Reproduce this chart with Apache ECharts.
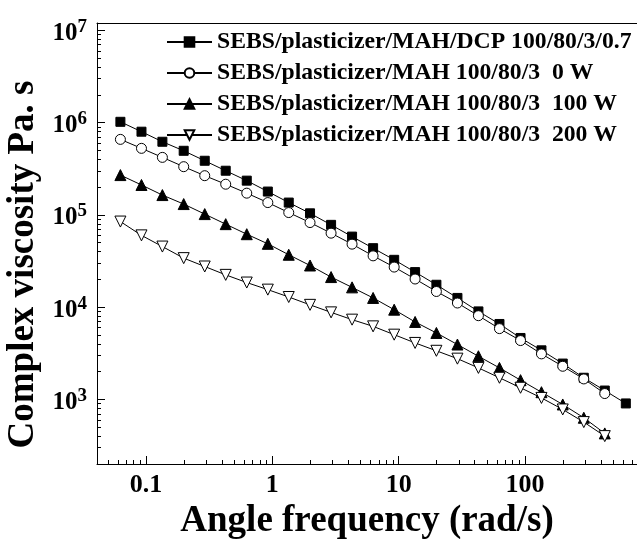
<!DOCTYPE html>
<html lang="en">
<head>
    <meta charset="UTF-8">
    <title>Complex viscosity vs angle frequency</title>
    <script src="https://cdn.jsdelivr.net/npm/echarts@6.0.0/dist/echarts.min.js"></script>
    <style>
        html, body { margin: 0; padding: 0; background: #fff; }
    </style>
</head>
<body>
<div id="main" style="width: 637px;height: 539px;"></div>

<script type="text/javascript">
    // angle frequency (rad/s), 6 points per decade
    var freq = [0.0628, 0.0922, 0.135, 0.199, 0.292, 0.428, 0.628, 0.922, 1.35, 1.99, 2.92, 4.28,
        6.28, 9.22, 13.5, 19.9, 29.2, 42.8, 62.8, 92.2, 135, 199, 292, 428, 628];

    var names = [
        'SEBS/plasticizer/MAH/DCP 100/80/3/0.7',
        'SEBS/plasticizer/MAH 100/80/3  0 W',
        'SEBS/plasticizer/MAH 100/80/3  100 W',
        'SEBS/plasticizer/MAH 100/80/3  200 W'
    ];

    var dcp = [1.02e6, 7.97e5, 6.2e5, 4.95e5, 3.86e5, 3.01e5, 2.35e5, 1.79e5, 1.36e5, 1.04e5, 7.8e4, 5.82e4,
        4.36e4, 3.26e4, 2.4e4, 1.75e4, 1.26e4, 9.0e3, 6.58e3, 4.64e3, 3.41e3, 2.45e3, 1.72e3, 1.25e3, 906];
    var w0 = [6.58e5, 5.26e5, 4.2e5, 3.33e5, 2.66e5, 2.15e5, 1.72e5, 1.36e5, 1.06e5, 8.26e4, 6.34e4, 4.82e4,
        3.6e4, 2.72e4, 2.02e4, 1.48e4, 1.11e4, 8.09e3, 5.86e3, 4.35e3, 3.12e3, 2.29e3, 1.67e3, 1.16e3];
    var w100 = [2.7e5, 2.11e5, 1.64e5, 1.31e5, 1.02e5, 7.94e4, 6.18e4, 4.86e4, 3.7e4, 2.83e4, 2.12e4, 1.64e4,
        1.26e4, 9.4e3, 6.92e3, 5.26e3, 3.94e3, 2.94e3, 2.2e3, 1.62e3, 1.2e3, 883, 634, 429];
    var w200 = [8.47e4, 6.0e4, 4.54e4, 3.4e4, 2.76e4, 2.24e4, 1.85e4, 1.55e4, 1.29e4, 1.06e4, 8.79e3, 7.33e3,
        6.2e3, 5.04e3, 4.1e3, 3.37e3, 2.77e3, 2.2e3, 1.72e3, 1.34e3, 1.04e3, 780, 569, 401];

    // tick positions
    var xMajor = [0.1, 1, 10, 100];
    var xMinor = [0.05, 0.06, 0.07, 0.08, 0.09, 0.2, 0.3, 0.4, 0.5, 0.6, 0.7, 0.8, 0.9,
        2, 3, 4, 5, 6, 7, 8, 9, 20, 30, 40, 50, 60, 70, 80, 90, 200, 300, 400, 500, 600, 700];
    var yMajor = [1e3, 1e4, 1e5, 1e6, 1e7];
    var yMinor = [300, 400, 500, 600, 700, 800, 900,
        2e3, 3e3, 4e3, 5e3, 6e3, 7e3, 8e3, 9e3,
        2e4, 3e4, 4e4, 5e4, 6e4, 7e4, 8e4, 9e4,
        2e5, 3e5, 4e5, 5e5, 6e5, 7e5, 8e5, 9e5,
        2e6, 3e6, 4e6, 5e6, 6e6, 7e6, 8e6, 9e6];

    var font = "'Liberation Serif', 'Times New Roman', serif";
    var xMin = 0.041, xMax = 770, yMin = 200, yMax = 1.2e7;

    function pairs(ys) {
        return ys.map(function (y, i) { return [freq[i], y]; });
    }

    var myChart = echarts.init(document.getElementById('main'));

    var solid = {color: '#000', borderColor: '#000', borderWidth: 1};
    var open = {color: '#fff', borderColor: '#000', borderWidth: 1};
    var line = {color: '#000', width: 1};

    var option = {
        animation: false,
        backgroundColor: '#fff',
        grid: {left: 97, right: 0, top: 23, bottom: 75, show: false, outerBoundsMode: 'none', containLabel: false},
        legend: {
            orient: 'vertical',
            left: 166,
            top: 30,
            padding: 0,
            itemWidth: 45,
            itemHeight: 12,
            itemGap: 7,
            data: names,
            textStyle: {fontFamily: font, fontWeight: 'bold', fontSize: 23.7, color: '#000', lineHeight: 22}
        },
        xAxis: [
            { //主刻度和标签
                type: 'log',
                min: xMin, max: xMax,
                position: 'bottom',
                name: 'Angle frequency (rad/s)',
                nameLocation: 'middle',
                nameGap: 26,
                nameTextStyle: {fontFamily: font, fontWeight: 'bold', fontSize: 37, color: '#000'},
                axisLine: {show: true, onZero: false, lineStyle: {color: '#000', width: 1}},
                axisTick: {inside: true, length: 8, customValues: xMajor, lineStyle: {color: '#000'}},
                axisLabel: {
                    customValues: xMajor, margin: 8,
                    fontFamily: font, fontWeight: 'bold', fontSize: 26, color: '#000',
                    formatter: function (v) { return v < 1 ? '0.1' : String(Math.round(v)); }
                },
                splitLine: {show: false}
            },
            { //次刻度
                type: 'log',
                min: xMin, max: xMax,
                position: 'bottom',
                axisLine: {show: false, onZero: false},
                axisTick: {inside: true, length: 4, customValues: xMinor, lineStyle: {color: '#000'}},
                axisLabel: {show: false},
                splitLine: {show: false}
            },
            { //上边框
                type: 'log',
                min: xMin, max: xMax,
                position: 'top',
                axisLine: {show: true, onZero: false, lineStyle: {color: '#000', width: 1}},
                axisTick: {show: false},
                axisLabel: {show: false},
                splitLine: {show: false}
            }
        ],
        yAxis: [
            {
                type: 'log',
                min: yMin, max: yMax,
                position: 'left',
                name: 'Complex viscosity Pa. s',
                nameLocation: 'middle',
                nameGap: 50,
                nameRotate: 90,
                nameTextStyle: {fontFamily: font, fontWeight: 'bold', fontSize: 37, color: '#000', padding: [0, 42, 0, 0]},
                axisLine: {show: true, onZero: false, lineStyle: {color: '#000', width: 1}},
                axisTick: {inside: true, length: 8, customValues: yMajor, lineStyle: {color: '#000'}},
                axisLabel: {
                    customValues: yMajor, margin: 10,
                    formatter: function (v) {
                        return '{b|10}{s|' + Math.round(Math.log10(v)) + '}';
                    },
                    rich: {
                        b: {fontFamily: font, fontWeight: 'bold', fontSize: 25, lineHeight: 26, padding: [6, 0, 0, 0], color: '#000'},
                        s: {fontFamily: font, fontWeight: 'bold', fontSize: 19, lineHeight: 19, color: '#000', verticalAlign: 'top'}
                    }
                },
                splitLine: {show: false}
            },
            {
                type: 'log',
                min: yMin, max: yMax,
                position: 'left',
                axisLine: {show: false, onZero: false},
                axisTick: {inside: true, length: 4, customValues: yMinor, lineStyle: {color: '#000'}},
                axisLabel: {show: false},
                splitLine: {show: false}
            }
        ],
        series: [
            {
                name: names[0], type: 'line', data: pairs(dcp),
                symbol: 'rect', symbolSize: 9, showAllSymbol: true,
                itemStyle: solid, lineStyle: line
            },
            {
                name: names[1], type: 'line', data: pairs(w0),
                symbol: 'circle', symbolSize: 10, showAllSymbol: true,
                itemStyle: open, lineStyle: line
            },
            {
                name: names[2], type: 'line', data: pairs(w100),
                symbol: 'triangle', symbolSize: 11, showAllSymbol: true,
                itemStyle: solid, lineStyle: line
            },
            {
                name: names[3], type: 'line', data: pairs(w200),
                symbol: 'triangle', symbolRotate: 180, symbolSize: 11, showAllSymbol: true,
                itemStyle: open, lineStyle: line
            }
        ]
    };

    myChart.setOption(option);
</script>
</body>
</html>
